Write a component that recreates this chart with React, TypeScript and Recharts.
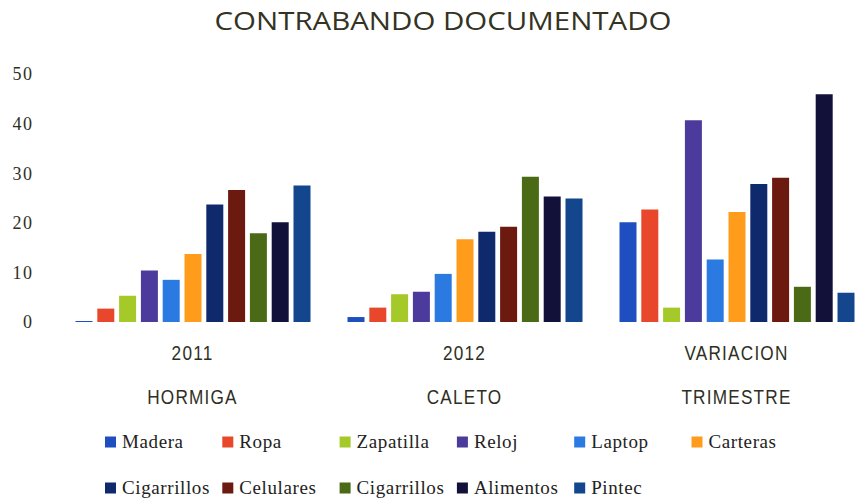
import React from 'react';
import { BarChart, Bar, XAxis, YAxis } from 'recharts';

const categories = ['2011', '2012', 'VARIACION'];
const subCategories = ['HORMIGA', 'CALETO', 'TRIMESTRE'];
const yTicks = [0, 10, 20, 30, 40, 50];

const seriesNames = [
  'Madera', 'Ropa', 'Zapatilla', 'Reloj', 'Laptop', 'Carteras',
  'Cigarrillos', 'Celulares', 'Cigarrillos', 'Alimentos', 'Pintec',
];

const madera = [0.2, 1.0, 20.1];
const ropa = [2.7, 2.9, 22.7];
const zapatilla = [5.3, 5.6, 2.9];
const reloj = [10.4, 6.1, 40.7];
const laptop = [8.5, 9.7, 12.6];
const carteras = [13.7, 16.7, 22.2];
const cigarrillos = [23.7, 18.2, 27.8];
const celulares = [26.6, 19.2, 29.1];
const cigarrillosVerde = [17.9, 29.3, 7.1];
const alimentos = [20.1, 25.3, 45.9];
const pintec = [27.5, 24.9, 5.9];

const seriesValues = [
  madera, ropa, zapatilla, reloj, laptop, carteras,
  cigarrillos, celulares, cigarrillosVerde, alimentos, pintec,
];

const colors = [
  '#1f4ec0', '#e8472b', '#a6c92a', '#4c3b9c', '#2a7ae2', '#ff9c1c',
  '#0f2a6c', '#6c1a10', '#4a6a15', '#12113a', '#13468c',
];

const data = categories.map((cat, i) => {
  const row: Record<string, string | number> = { name: cat, sub: subCategories[i] };
  seriesValues.forEach((vals, s) => {
    row[`s${s}`] = vals[i];
  });
  return row;
});

const textColor = '#2f2f1f';

function CategoryTick(props: any) {
  const { x, y, payload } = props;
  const idx = categories.indexOf(payload.value);
  return (
    <g transform={`translate(${x},${y})`}>
      <g transform="scale(0.86,1.05)">
        <text x={0} y={34} textAnchor="middle" fontFamily="Liberation Sans, Arial, sans-serif"
          fontSize={20} letterSpacing={1.4} fill={textColor}>
          {payload.value}
        </text>
        <text x={0} y={76} textAnchor="middle" fontFamily="Liberation Sans, Arial, sans-serif"
          fontSize={20} letterSpacing={1.4} fill={textColor}>
          {subCategories[idx]}
        </text>
      </g>
    </g>
  );
}

export default function App() {
  return (
    <div style={{ position: 'absolute', left: 0, top: 0, width: 855, height: 498, overflow: 'hidden', background: '#fff' }}>
      <BarChart
        width={880}
        height={498}
        data={data}
        margin={{ top: 74, right: 7.5, left: 16.5, bottom: 86 }}
        barSize={17}
        barGap={4.8}
      >
        <XAxis
          dataKey="name"
          axisLine={false}
          tickLine={false}
          tickSize={0}
          height={90}
          interval={0}
          tick={<CategoryTick />}
        />
        <YAxis
          domain={[0, 50]}
          ticks={yTicks}
          axisLine={false}
          tickLine={false}
          tickSize={0}
          tickMargin={23}
          width={40}
          tick={{ fontFamily: 'Liberation Serif, serif', fontSize: 18, letterSpacing: 1.5, fill: textColor }}
        />
        {seriesNames.map((name, s) => (
          <Bar key={s} dataKey={`s${s}`} name={name} fill={colors[s]} isAnimationActive={false} />
        ))}
      </BarChart>

      <svg width={855} height={498} style={{ position: 'absolute', left: 0, top: 0, pointerEvents: 'none' }}>
        <text x={443} y={30} textAnchor="middle" fontFamily="Open Sans, sans-serif" fontSize={25}
          textLength={457} lengthAdjust="spacingAndGlyphs" fill="#33331f">
          CONTRABANDO DOCUMENTADO
        </text>
        {seriesNames.map((name, i) => {
          const row = i < 6 ? 0 : 1;
          const col = i < 6 ? i : i - 6;
          const mx = 105 + col * 117.3;
          const cy = 442 + row * 46;
          return (
            <g key={i}>
              <rect x={mx} y={cy - 5.5} width={11} height={11} fill={colors[i]} />
              <text x={mx + 17} y={cy + 6} fontFamily="Liberation Serif, serif" fontSize={19}
                letterSpacing={0.6} fill="#222">
                {name}
              </text>
            </g>
          );
        })}
      </svg>
    </div>
  );
}
